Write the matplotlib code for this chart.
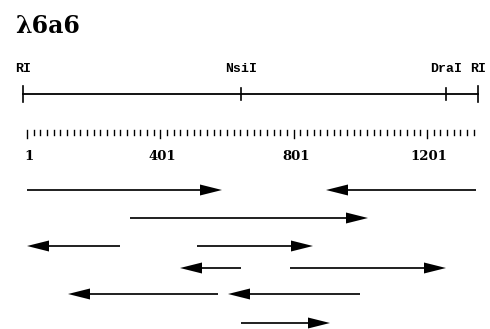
import numpy as np
import matplotlib.pyplot as plt

# restriction sites (bp)
sites = ['RI', 'NsiI', 'DraI', 'RI']
site_pos = [-11, 643, 1258, 1354]

# ruler
ruler_start = 1
ruler_end = 1341
ruler_step = 20
ruler_labels = [1, 401, 801, 1201]

# sequenced fragments: (start, end) in bp, direction from start to end
frag_start = [1, 1348, 310, 280, 511, 643, 790, 574, 1000, 643]
frag_end = [586, 898, 1024, 1, 859, 460, 1258, 124, 604, 910]
frag_row = [0, 0, 1, 2, 2, 3, 3, 4, 4, 5]

fig = plt.figure(figsize=(4.9, 3.29), dpi=100)
ax = fig.add_axes([0, 0, 1, 1])
# x in bp (3 bp per pixel), y in pixel rows
ax.set_xlim(1 - 27 * 3, 1 + (490 - 27) * 3)
ax.set_ylim(329, 0)
ax.axis('off')

fig.text(15 / 490, 1 - 26 / 329, '\u03bb6a6', fontsize=17, fontweight='bold',
         family='DejaVu Serif', ha='left', va='center')

# restriction map
map_y = 94
ax.plot([site_pos[0], site_pos[-1]], [map_y, map_y], color='black', lw=1.3)
for i, (name, p) in enumerate(zip(sites, site_pos)):
    h = 8 if i in (0, len(sites) - 1) else 6
    ax.plot([p, p], [map_y - h, map_y + h], color='black', lw=1.2)
    ax.text(p, 69, name, fontsize=9.5, fontweight='bold', family='Liberation Mono',
            ha='center', va='center')

# ruler ticks
ticks = np.arange(ruler_start, ruler_end + 1, ruler_step)
for t in ticks:
    major = (t - 1) % 400 == 0
    ax.plot([t, t], [130, 138 if major else 135], color='black', lw=1.0)
for lab in ruler_labels:
    ax.text(lab + 6, 157, str(lab), fontsize=9.5, fontweight='bold',
            family='DejaVu Serif', ha='center', va='center')

# fragment arrows
row_y = [190, 218, 246, 268, 294, 323]
for s, e, r in zip(frag_start, frag_end, frag_row):
    ax.arrow(s, row_y[r], e - s, 0, width=1.7, head_width=11, head_length=66,
             length_includes_head=True, color='black', lw=0)

fig.savefig('out.png', dpi=100)
